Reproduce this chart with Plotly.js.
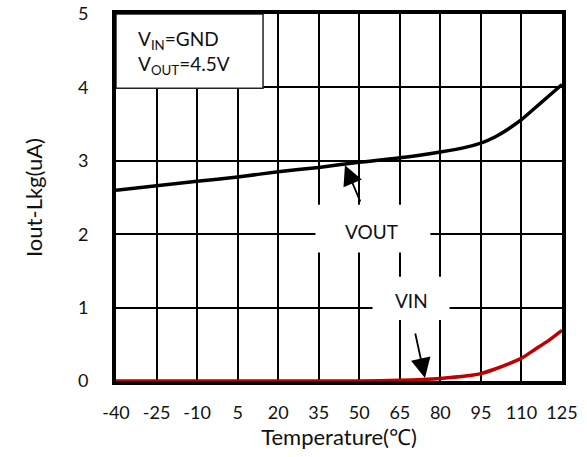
<!DOCTYPE html>
<html><head><meta charset="utf-8">
<script src="https://cdn.plot.ly/plotly-3.0.1.min.js"></script>
<style>body{margin:0;background:#fff}#c{width:587px;height:457px}</style>
</head><body><div id="c"></div>
<script>
const temps = [-40,-25,-10,5,20,35,50,65,80,90,95,100,105,110,115,120,125];
const vout = [2.60,2.66,2.72,2.78,2.85,2.91,2.98,3.04,3.12,3.19,3.24,3.32,3.43,3.56,3.72,3.88,4.04];
const vin = [0,0,0,0,0,0,0,0.01,0.035,0.07,0.1,0.16,0.23,0.31,0.43,0.55,0.69];
const xTicks = [-40,-25,-10,5,20,35,50,65,80,95,110,125];
const yTicks = [0,1,2,3,4,5];

const font = 'Lato, "Open Sans", sans-serif';
const traces = [
  {x: temps, y: vout, mode: 'lines', line: {color: '#000', width: 3.5, shape: 'spline', smoothing: 0.6}, name: 'VOUT'},
  {x: temps, y: vin, mode: 'lines', line: {color: '#c00000', width: 3.5, shape: 'spline', smoothing: 0.6}, name: 'VIN'}
];
const layout = {
  width: 587, height: 457,
  margin: {l: 116, r: 25, t: 14, b: 76},
  paper_bgcolor: '#fff', plot_bgcolor: '#fff',
  showlegend: false,
  font: {family: font, color: '#111', size: 18},
  xaxis: {
    range: [-40, 125], tickvals: xTicks, ticktext: xTicks.map(String),
    tickfont: {family: font, size: 18, color: '#111'},
    showgrid: true, gridcolor: '#000', gridwidth: 2,
    showline: true, mirror: true, linecolor: '#000', linewidth: 4,
    layer: 'below traces', zeroline: false, ticks: '', ticklabelstandoff: 12,
    title: {text: 'Temperature(℃)', font: {family: font, size: 22, color: '#111'}, standoff: 8}
  },
  yaxis: {
    range: [0, 5], tickvals: yTicks,
    tickfont: {family: font, size: 18, color: '#111'},
    showgrid: true, gridcolor: '#000', gridwidth: 2,
    showline: true, mirror: true, linecolor: '#000', linewidth: 4,
    layer: 'below traces', zeroline: false, ticks: '', ticklabelstandoff: 20,
    title: {text: 'Iout-Lkg(uA)', font: {family: font, size: 22, color: '#111'}, standoff: 30}
  },
  shapes: [
    {type: 'rect', xref: 'x', yref: 'y', x0: -40, x1: 14.4, y0: 3.99, y1: 5,
     fillcolor: '#fff', line: {color: '#222', width: 1.5}, layer: 'between'},
    {type: 'rect', xref: 'x', yref: 'y', x0: 33.8, x1: 76.3, y0: 1.75, y1: 2.4,
     fillcolor: '#fff', line: {width: 0}, layer: 'between'},
    {type: 'rect', xref: 'x', yref: 'y', x0: 54.9, x1: 83.4, y0: 0.83, y1: 1.42,
     fillcolor: '#fff', line: {width: 0}, layer: 'between'}
  ],
  annotations: [
    {xref: 'paper', yref: 'paper', x: 20/446, y: 1 - 11/367, xanchor: 'left', yanchor: 'top',
     align: 'left', showarrow: false, font: {family: font, size: 19, color: '#111'},
     text: 'V<sub>IN</sub>=GND<br>V<sub>OUT</sub>=4.5V'},
    {x: 54.5, y: 2.04, text: 'VOUT', showarrow: false, font: {family: font, size: 19, color: '#111'}},
    {x: 69.5, y: 1.1, text: 'VIN', showarrow: false, font: {family: font, size: 19, color: '#111'}},
    {x: 44.7, y: 2.94, ax: 16, ay: 38, text: '', showarrow: true, arrowhead: 2, arrowsize: 2.2, arrowwidth: 1.8, arrowcolor: '#000'},
    {x: 74.3, y: 0.04, ax: -10, ay: -46, text: '', showarrow: true, arrowhead: 2, arrowsize: 2.2, arrowwidth: 1.8, arrowcolor: '#000'}
  ]
};
Plotly.newPlot('c', traces, layout, {displayModeBar: false});
</script></body></html>
